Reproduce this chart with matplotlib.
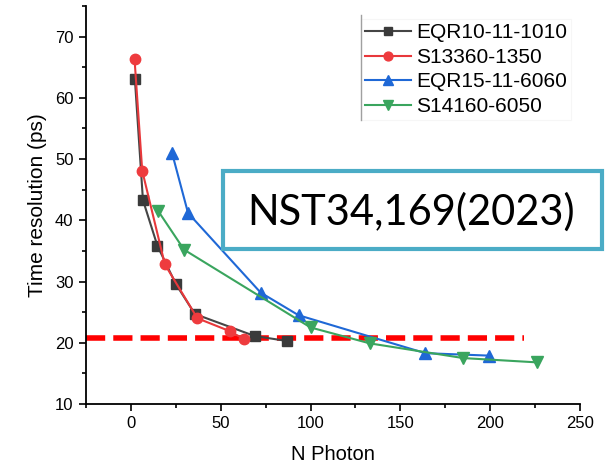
import matplotlib
matplotlib.use("Agg")
import matplotlib.pyplot as plt
from matplotlib.patches import Rectangle
from matplotlib.lines import Line2D
from matplotlib.ticker import MultipleLocator

plt.rcParams['font.family'] = ['Liberation Sans', 'DejaVu Sans']

# Data
eqr10_x = [2.2, 6.7, 14.8, 25.0, 35.6, 68.9, 86.7]
eqr10_y = [63.1, 43.3, 35.8, 29.6, 24.7, 21.1, 20.3]
s13360_x = [2.0, 6.3, 18.9, 37.0, 55.0, 63.0]
s13360_y = [66.4, 48.1, 32.8, 24.0, 21.9, 20.6]
eqr15_x = [22.9, 31.8, 72.2, 93.3, 163.9, 199.4]
eqr15_y = [51.0, 41.2, 28.2, 24.5, 18.3, 17.9]
s14160_x = [15.0, 29.6, 100.0, 133.0, 185.0, 226.0]
s14160_y = [41.6, 35.2, 22.5, 19.9, 17.5, 16.8]
labels = ["EQR10-11-1010", "S13360-1350", "EQR15-11-6060", "S14160-6050"]
ref_y = 20.8
ref_x = [-25, 219]
annotation = "NST34,169(2023)"

fig = plt.figure(figsize=(6.15, 4.67), dpi=100)
ax = fig.add_axes([86/615, 63/467, (580-86)/615, (404-6)/467])

ax.plot(ref_x, [ref_y, ref_y], color='#ff0000', lw=4.0,
        linestyle=(0, (19/5.5, 8/5.5)), zorder=1)

ax.plot(eqr10_x, eqr10_y, color='#454545', lw=1.5, marker='s', ms=6.5,
        mec='#3a3a3a', mfc='#3a3a3a', label=labels[0], zorder=3)
ax.plot(s13360_x, s13360_y, color='#e8383b', lw=1.5, marker='o', ms=7.5,
        mec='#ee3b3e', mfc='#ee3b3e', label=labels[1], zorder=4)
ax.plot(eqr15_x, eqr15_y, color='#1f68d6', lw=1.5, marker='^', ms=8,
        mec='#1f68d6', mfc='#1f68d6', label=labels[2], zorder=3)
ax.plot(s14160_x, s14160_y, color='#3aa55e', lw=1.5, marker='v', ms=8,
        mec='#3aa55e', mfc='#3aa55e', label=labels[3], zorder=3)

ax.set_xlim(-25, 250)
ax.set_ylim(10, 75)
ax.xaxis.set_major_locator(MultipleLocator(50))
ax.xaxis.set_minor_locator(MultipleLocator(25))
ax.yaxis.set_major_locator(MultipleLocator(10))
ax.yaxis.set_minor_locator(MultipleLocator(5))
ax.spines['top'].set_visible(False)
ax.spines['right'].set_visible(False)
for s in ['left', 'bottom']:
    ax.spines[s].set_linewidth(1.3)
ax.tick_params(which='major', direction='out', length=5, width=1.2, labelsize=12, pad=4)
ax.tick_params(which='minor', direction='out', length=3, width=1.2)

ax.set_xlabel("N Photon", fontsize=14.5, labelpad=10)
ax.set_ylabel("Time resolution (ps)", fontsize=15, labelpad=6)

leg = ax.legend(loc='upper left', bbox_to_anchor=(361/615, 1-19/467),
                bbox_transform=fig.transFigure, fontsize=15, frameon=True,
                handlelength=2.2, handletextpad=0.25, labelspacing=0.27,
                borderpad=0.2, borderaxespad=0, fancybox=False,
                markerscale=0.85)
leg.get_frame().set_edgecolor('#f4f4f4')
leg.get_frame().set_linewidth(0.8)
fig.add_artist(Line2D([361/615, 361/615], [1-15/467, 1-120/467],
                      transform=fig.transFigure, color='#a0a0a0', lw=1.0))

rect = Rectangle((222.7/615, 1-249.3/467), 379/615, 78.6/467,
                 transform=fig.transFigure, facecolor='white',
                 edgecolor='#4bacc6', lw=3.0, zorder=5)
fig.add_artist(rect)
fig.text(411/615, 1-212/467, annotation, fontsize=30, family=['Lato', 'DejaVu Sans'],
         ha='center', va='center', zorder=6)

fig.savefig("out.png", dpi=100)
